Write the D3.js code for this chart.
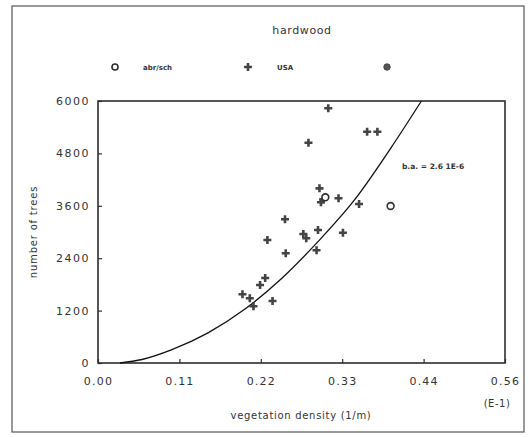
<!DOCTYPE html>
<html>
<head>
<meta charset="utf-8">
<script src="https://cdn.jsdelivr.net/npm/d3@7"></script>
<style>
  html, body { margin: 0; padding: 0; background: #fff; }
  svg { display: block; }
  text { font-family: "DejaVu Sans", sans-serif; fill: #333; }
</style>
</head>
<body>
<svg id="chart" width="529" height="437"></svg>
<script>
// Hardwood stands: number of trees vs. vegetation density (units of E-1, 1/m)
const xTickValues = [0, 0.111, 0.222, 0.333, 0.444, 0.555];
const xTickLabels = ["0.00", "0.11", "0.22", "0.33", "0.44", "0.56"];
const yTickValues = [0, 1200, 2400, 3600, 4800, 6000];

// "abr/sch" series (open circles)
const abrX = [0.310, 0.399];
const abrY = [3795, 3595];

// USA series (plus markers)
const usaX = [0.314, 0.367, 0.381, 0.287, 0.302, 0.304, 0.307, 0.328, 0.356, 0.255,
              0.280, 0.284, 0.300, 0.334, 0.231, 0.256, 0.298, 0.228, 0.221, 0.197,
              0.207, 0.212, 0.238];
const usaY = [5833, 5297, 5297, 5045, 4000, 3680, 3744, 3772, 3641, 3291,
              2954, 2856, 3046, 2984, 2817, 2512, 2581, 1947, 1786, 1573,
              1482, 1298, 1420];

// fitted curve b.a. relation, read along its length
const fitX = [0.030, 0.060, 0.100, 0.150, 0.200, 0.250, 0.300, 0.350, 0.400, 0.441];
const fitY = [0, 80, 300, 690, 1230, 1930, 2780, 3740, 4940, 6000];

const svg = d3.select("#chart");
const ink = "#2e2e2e";

// outer frame
svg.append("rect")
  .attr("x", 12).attr("y", 6).attr("width", 512).attr("height", 426)
  .attr("fill", "none").attr("stroke", "#555").attr("stroke-width", 1.2);

const plotLeft = 98, plotRight = 505, plotTop = 101, plotBottom = 363;
const x = d3.scaleLinear().domain([0, 0.555]).range([plotLeft, plotRight]);
const y = d3.scaleLinear().domain([0, 6000]).range([plotBottom, plotTop]);

// plot box
svg.append("rect")
  .attr("x", plotLeft).attr("y", plotTop)
  .attr("width", plotRight - plotLeft).attr("height", plotBottom - plotTop)
  .attr("fill", "none").attr("stroke", ink).attr("stroke-width", 1.6);

// x axis: ticks point inward
const xAxis = d3.axisBottom(x).tickValues(xTickValues)
  .tickSizeInner(-4).tickSizeOuter(0).tickPadding(14)
  .tickFormat((d, i) => xTickLabels[i]);
const gx = svg.append("g").attr("transform", `translate(0,${plotBottom})`).call(xAxis);
gx.select(".domain").remove();
gx.selectAll("line").attr("stroke", ink).attr("stroke-width", 1.2);
gx.selectAll("text").attr("font-size", 11).attr("letter-spacing", 1.2).attr("fill", ink)
  .style("font-family", "DejaVu Sans, sans-serif");

// y axis: ticks point inward
const yAxis = d3.axisLeft(y).tickValues(yTickValues)
  .tickSizeInner(-4).tickSizeOuter(0).tickPadding(8)
  .tickFormat(d3.format("d"));
const gy = svg.append("g").attr("transform", `translate(${plotLeft},0)`).call(yAxis);
gy.select(".domain").remove();
gy.selectAll("line").attr("stroke", ink).attr("stroke-width", 1.2);
gy.selectAll("text").attr("font-size", 11).attr("letter-spacing", 1.5).attr("fill", ink)
  .style("font-family", "DejaVu Sans, sans-serif");

// titles
svg.append("text").attr("x", 302).attr("y", 34).attr("text-anchor", "middle")
  .attr("font-size", 11).attr("letter-spacing", 0.6).text("hardwood");

svg.append("text").attr("x", 301).attr("y", 419).attr("text-anchor", "middle")
  .attr("font-size", 10).attr("letter-spacing", 0.7).text("vegetation density (1/m)");

svg.append("text").attr("x", 497).attr("y", 407).attr("text-anchor", "middle")
  .attr("font-size", 10).attr("letter-spacing", 0.5).text("(E-1)");

svg.append("text")
  .attr("transform", "translate(37,232) rotate(-90)")
  .attr("text-anchor", "middle").attr("font-size", 10).attr("letter-spacing", 0.8)
  .text("number of trees");

// plus marker path
const plusPath = "M-4,0H4M0,-4V4";

// legend
const legY = 67;
svg.append("circle").attr("cx", 115).attr("cy", legY).attr("r", 3)
  .attr("fill", "none").attr("stroke", ink).attr("stroke-width", 1.6);
svg.append("text").attr("x", 143).attr("y", legY + 2.5).attr("font-size", 7)
  .attr("font-weight", "bold").text("abr/sch");
svg.append("path").attr("d", plusPath).attr("transform", `translate(248,${legY})`)
  .attr("stroke", "#444").attr("stroke-width", 2.6);
svg.append("text").attr("x", 277).attr("y", legY + 2.5).attr("font-size", 7)
  .attr("font-weight", "bold").text("USA");
svg.append("circle").attr("cx", 387).attr("cy", legY).attr("r", 3.2)
  .attr("fill", "#555").attr("stroke", "#444").attr("stroke-width", 1);

// fitted curve
const fitData = fitX.map((d, i) => [d, fitY[i]]);
svg.append("path").datum(fitData)
  .attr("d", d3.line().x(d => x(d[0])).y(d => y(d[1])).curve(d3.curveMonotoneX))
  .attr("fill", "none").attr("stroke", "#111").attr("stroke-width", 1.3);

svg.append("text").attr("x", 402).attr("y", 169).attr("font-size", 7.5)
  .attr("font-weight", "bold").attr("fill", "#444").text("b.a. = 2.6 1E-6");

// USA points
const usaData = usaX.map((d, i) => [d, usaY[i]]);
svg.append("g").selectAll("path").data(usaData).join("path")
  .attr("d", plusPath)
  .attr("transform", d => `translate(${x(d[0])},${y(d[1])})`)
  .attr("stroke", "#444").attr("stroke-width", 2.6);

// abr/sch points
const abrData = abrX.map((d, i) => [d, abrY[i]]);
svg.append("g").selectAll("circle").data(abrData).join("circle")
  .attr("cx", d => x(d[0])).attr("cy", d => y(d[1])).attr("r", 3.4)
  .attr("fill", "#fff").attr("stroke", ink).attr("stroke-width", 1.6);
</script>
</body>
</html>
